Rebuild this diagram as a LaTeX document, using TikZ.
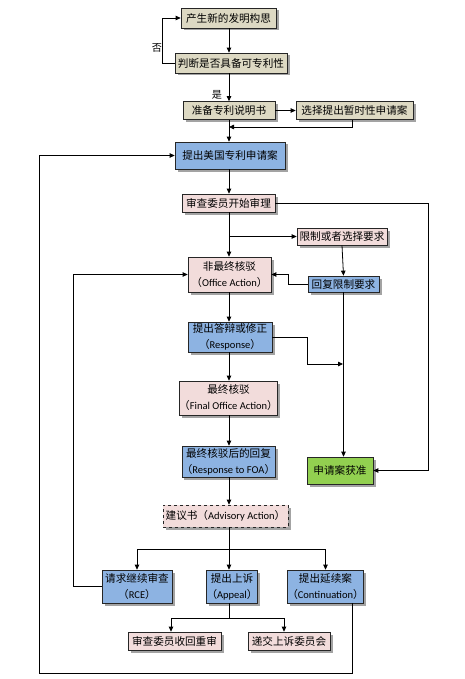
\documentclass[tikz,border=0pt]{standalone}
\usepackage{fontspec}
\setmainfont{Carlito}
\newfontfamily\cjk[Scale=1.01]{Noto Sans CJK SC}
\usetikzlibrary{arrows.meta,shadows}
\definecolor{tanc}{HTML}{DDD9C3}
\definecolor{bluec}{HTML}{8DB3E2}
\definecolor{pinkc}{HTML}{F2DCDB}
\definecolor{greenc}{HTML}{92D050}
\newcommand\zh[1]{{\cjk #1}}
\begin{document}
\begin{tikzpicture}[x=1pt,y=-1pt,
  box/.style={draw=black!85, line width=0.7pt, inner sep=0pt, align=center,
    font=\fontsize{10.5}{16}\selectfont,
    drop shadow={shadow xshift=2.5pt, shadow yshift=-2.5pt, fill=black!55, opacity=0.65}},
  tanbox/.style={box, fill=tanc},
  bluebox/.style={box, fill=bluec},
  pinkbox/.style={box, fill=pinkc},
  greenbox/.style={box, fill=greenc},
  arr/.style={-{Triangle[length=5pt,width=4.5pt]}, line width=0.8pt},
  ln/.style={line width=0.8pt},
  lab/.style={font=\fontsize{10}{11}\selectfont, inner sep=0pt}]
\useasboundingbox (0,0) rectangle (464,679);
\fill[white] (0,0) rectangle (464,679);

% helper coordinates
\coordinate (sp) at (229,0);
\coordinate (rr) at (428,0);
\coordinate (j1) at (229,127);
\coordinate (j2) at (343,364);
\coordinate (j3) at (229,549);
\coordinate (j4) at (229,618);
\coordinate (lb) at (39,673);

% nodes
\node[tanbox, minimum width=95pt, minimum height=20pt] (b1) at (228.5,18) {\zh{产生新的发明构思}};
\node[tanbox, minimum width=112pt, minimum height=20pt] (b2) at (231,63) {\zh{判断是否具备可专利性}};
\node[tanbox, minimum width=92pt, minimum height=18pt] (b3) at (229,110.5) {\zh{准备专利说明书}};
\node[tanbox, minimum width=117pt, minimum height=18pt] (b4) at (354.5,110.5) {\zh{选择提出暂时性申请案}};
\node[bluebox, minimum width=110pt, minimum height=27pt] (b5) at (230,155.5) {\zh{提出美国专利申请案}};
\node[pinkbox, minimum width=93pt, minimum height=18pt] (b6) at (228.5,203) {\zh{审查委员开始审理}};
\node[pinkbox, minimum width=90pt, minimum height=17pt] (b7) at (342,236.5) {\zh{限制或者选择要求}};
\node[bluebox, minimum width=71pt, minimum height=16pt] (b8) at (343.5,284) {\zh{回复限制要求}};
\node[pinkbox, minimum width=83pt, minimum height=35pt] (b9) at (229.5,274.5) {\zh{非最终核驳}\\\zh{（}Office Action\zh{）}};
\node[bluebox, minimum width=84pt, minimum height=30pt] (b10) at (230,337) {\zh{提出答辩或修正}\\\zh{（}Response\zh{）}};
\node[pinkbox, minimum width=93pt, minimum height=34pt] (b11) at (228.5,398) {\zh{最终核驳}\\\zh{（}Final Office Action\zh{）}};
\node[bluebox, minimum width=93pt, minimum height=31pt] (b12) at (228.5,461.5) {\zh{最终核驳后的回复}\\\zh{（}Response to FOA\zh{）}};
\node[greenbox, minimum width=66pt, minimum height=27pt] (gr) at (340,470.5) {\zh{申请案获准}};
\node[pinkbox, dashed, minimum width=125pt, minimum height=22pt] (b13) at (225.5,516) {\zh{建议书（}Advisory Action\zh{）}};
\node[bluebox, minimum width=70pt, minimum height=33pt] (rce) at (137,586.5) {\zh{请求继续审查}\\\zh{（}RCE\zh{）}};
\node[bluebox, minimum width=50pt, minimum height=33pt] (ap) at (232,586.5) {\zh{提出上诉}\\\zh{（}Appeal\zh{）}};
\node[bluebox, minimum width=75pt, minimum height=33pt] (cont) at (325.5,586.5) {\zh{提出延续案}\\\zh{（}Continuation\zh{）}};
\node[pinkbox, minimum width=93pt, minimum height=18pt] (r1) at (174.5,641) {\zh{审查委员收回重审}};
\node[pinkbox, minimum width=82pt, minimum height=18pt] (r2) at (289,641) {\zh{递交上诉委员会}};

% labels
\node[lab] (no) at (157,48) {\zh{否}};
\node[lab] (yes) at (217,95) {\zh{是}};

% connectors
\draw[arr] (b1.south -| sp) -- (b2.north -| sp);
\draw[arr] (b2.west) -- ++(-12,0) |- (b1.west);
\draw[arr] (b2.south -| sp) -- (b3.north -| sp);
\draw[arr] (b3.east) -- (b4.west);
\draw[arr] ([xshift=-2.5pt]b4.south) |- (j1);
\draw[arr] (b3.south -| sp) -- (b5.north -| sp);
\draw[arr] (b5.south -| sp) -- (b6.north -| sp);
\draw[arr] (b6.east) -- (b6.east -| rr) |- (gr.east);
\draw[arr] (b6.south -| sp) -- (b9.north -| sp);
\draw[arr] (b7.west -| sp) -- (b7.west);
\draw[arr] (b7.south) -- (b8.north);
\draw[arr] (b8.west) -- ++(-19,0) |- (b9.east);
\draw[arr] (b8.south) -- (b8.south |- gr.north);
\draw[arr] (b9.south -| sp) -- (b10.north -| sp);
\draw[arr] (b10.east) -- ++(35,0) |- (j2);
\draw[arr] (b10.south -| sp) -- (b11.north -| sp);
\draw[arr] (b11.south -| sp) -- (b12.north -| sp);
\draw[arr] (b12.south -| sp) -- (b13.north -| sp);
\draw[ln] (b13.south -| sp) -- (j3);
\draw[arr] (j3) -| (rce.north);
\draw[arr] (j3) -- (ap.north -| sp);
\draw[arr] (j3) -| (cont.north);
\draw[arr] (rce.west) -- ++(-28,0) |- (b9.west);
\draw[ln] (ap.south -| sp) -- (j4);
\draw[arr] (j4) -| ([xshift=-3.5pt]r1.north);
\draw[arr] (j4) -| ([xshift=-5pt]r2.north);
\draw[arr] ([xshift=26.5pt]cont.south) |- (lb) |- (b5.west);
\end{tikzpicture}
\end{document}
